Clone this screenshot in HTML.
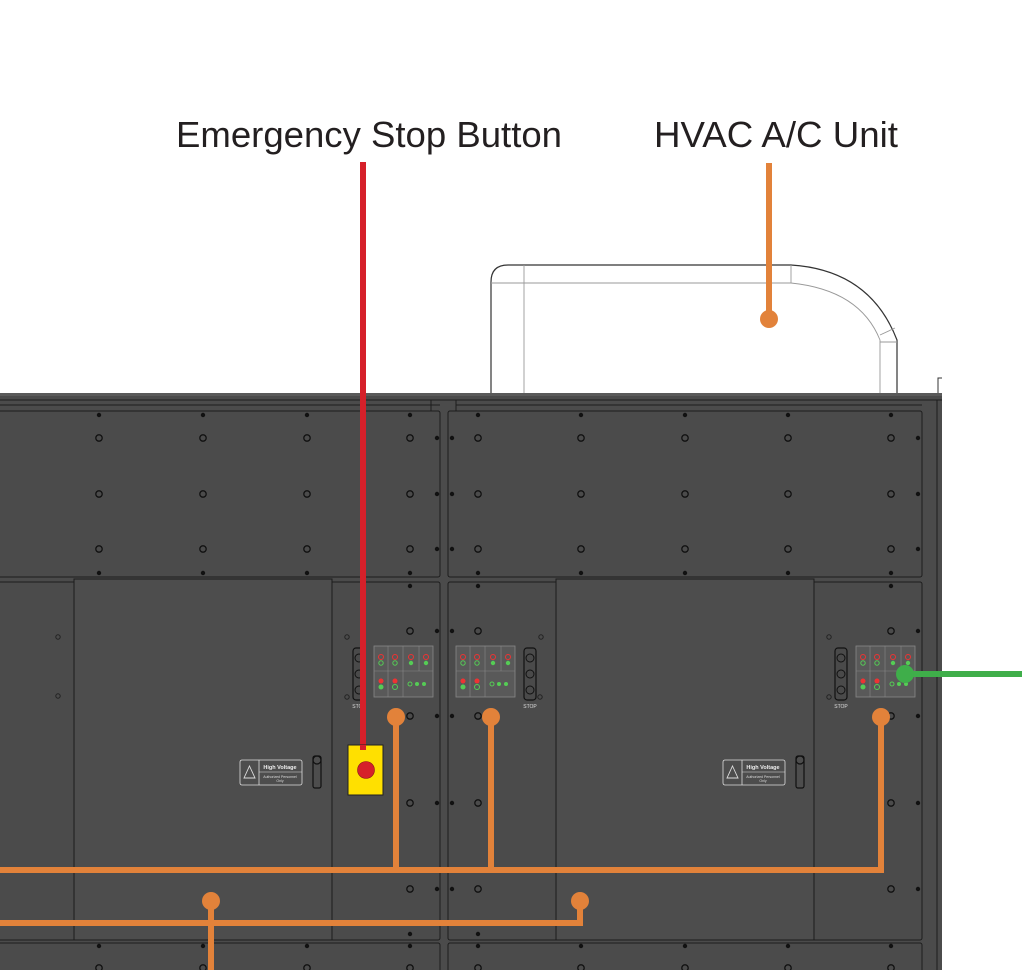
<!DOCTYPE html>
<html><head><meta charset="utf-8"><style>html,body{margin:0;padding:0;background:#fff;width:1022px;height:970px;overflow:hidden}</style></head>
<body>
<svg width="1022" height="970" viewBox="0 0 1022 970" xmlns="http://www.w3.org/2000/svg">
<defs>
<g id="ring"><circle r="3.2" fill="none" stroke="#111" stroke-width="1.3"/></g>
<g id="dot"><circle r="2.2" fill="#111"/></g>
<g id="cp">
 <rect x="0" y="0" width="59" height="51" fill="#595959" stroke="#888" stroke-width="0.8"/>
 <line x1="0" y1="25" x2="59" y2="25" stroke="#888" stroke-width="0.6"/>
 <line x1="14" y1="0" x2="14" y2="51" stroke="#888" stroke-width="0.6"/>
 <line x1="29" y1="0" x2="29" y2="51" stroke="#888" stroke-width="0.6"/>
 <line x1="45" y1="0" x2="45" y2="25" stroke="#888" stroke-width="0.6"/>
 <circle cx="7" cy="11" r="2.5" fill="none" stroke="#e33" stroke-width="1"/>
 <circle cx="21" cy="11" r="2.5" fill="none" stroke="#e33" stroke-width="1"/>
 <circle cx="37" cy="11" r="2.5" fill="none" stroke="#e33" stroke-width="1"/>
 <circle cx="52" cy="11" r="2.5" fill="none" stroke="#e33" stroke-width="1"/>
 <circle cx="7" cy="17" r="2.2" fill="none" stroke="#5c5" stroke-width="1"/>
 <circle cx="21" cy="17" r="2.2" fill="none" stroke="#5c5" stroke-width="1"/>
 <circle cx="37" cy="17" r="2.2" fill="#5c5"/>
 <circle cx="52" cy="17" r="2.2" fill="#5c5"/>
 <circle cx="7" cy="35" r="2.5" fill="#e33"/>
 <circle cx="21" cy="35" r="2.5" fill="#e33"/>
 <circle cx="7" cy="41" r="2.5" fill="#5c5"/>
 <circle cx="21" cy="41" r="2.5" fill="none" stroke="#5c5"/>
 <circle cx="36" cy="38" r="2" fill="none" stroke="#5c5"/>
 <circle cx="43" cy="38" r="2" fill="#5c5"/>
 <circle cx="50" cy="38" r="2" fill="#5c5"/>
</g>
<g id="stop">
 <rect x="0" y="0" width="12" height="52" rx="3" fill="#4a4a4a" stroke="#111" stroke-width="1.2"/>
 <circle cx="6" cy="10" r="4" fill="none" stroke="#111"/>
 <circle cx="6" cy="26" r="4" fill="none" stroke="#111"/>
 <circle cx="6" cy="42" r="4" fill="none" stroke="#111"/>
 <text x="6" y="60" font-family="Liberation Sans" font-size="5" fill="#ddd" text-anchor="middle">STOP</text>
</g>
<g id="hv">
 <rect x="0" y="0" width="62" height="25" rx="2" fill="none" stroke="#ddd" stroke-width="0.8"/>
 <line x1="19" y1="0" x2="19" y2="25" stroke="#ddd" stroke-width="0.8"/>
 <line x1="19" y1="12" x2="62" y2="12" stroke="#ddd" stroke-width="0.6"/>
 <path d="M9.5 6 L15 18 L4 18 Z" fill="none" stroke="#ddd" stroke-width="0.9"/>
 <text x="40" y="9" font-family="Liberation Sans" font-size="5.5" font-weight="bold" fill="#eee" text-anchor="middle">High Voltage</text>
 <text x="40" y="18" font-family="Liberation Sans" font-size="3.5" fill="#ddd" text-anchor="middle">Authorized Personnel</text>
 <text x="40" y="22" font-family="Liberation Sans" font-size="3.5" fill="#ddd" text-anchor="middle">Only</text>
</g>
</defs>

<!-- labels -->
<text x="176" y="147" font-family="Liberation Sans" font-size="36" fill="#231f20" textLength="386" lengthAdjust="spacingAndGlyphs">Emergency Stop Button</text>
<text x="654" y="147" font-family="Liberation Sans" font-size="36" fill="#231f20" textLength="244" lengthAdjust="spacingAndGlyphs">HVAC A/C Unit</text>

<!-- HVAC outline -->
<g fill="none" stroke="#333" stroke-width="1.2">
 <path d="M491 400 L491 282 Q491 265 508 265 L791 265 Q870 270 897 340 L897 400"/>
</g>
<g fill="none" stroke="#999" stroke-width="0.9">
 <line x1="524" y1="265" x2="524" y2="400"/>
 <line x1="491" y1="283" x2="791" y2="283"/>
 <line x1="791" y1="265" x2="791" y2="283"/>
 <path d="M791 283 Q860 290 880 340 L880 400"/>
 <line x1="880" y1="342" x2="897" y2="342"/>
 <line x1="880" y1="335" x2="895" y2="328"/>
</g>
<path d="M938 400 L938 378 L942 378" fill="none" stroke="#333" stroke-width="1"/>

<!-- cabinet body -->
<rect x="0" y="393" width="942" height="577" fill="#4b4b4b"/>
<rect x="0" y="393" width="942" height="3" fill="#5a5a5a"/>
<g fill="none" stroke="#1c1c1c" stroke-width="1">
 <line x1="0" y1="400" x2="942" y2="400"/>
 <line x1="0" y1="405" x2="440" y2="405"/>
 <line x1="456" y1="405" x2="922" y2="405"/>
 <line x1="937" y1="400" x2="937" y2="970"/>
 <rect x="-2" y="411" width="442" height="166" rx="2"/>
 <rect x="448" y="411" width="474" height="166" rx="2"/>
 <rect x="-2" y="582" width="442" height="358" rx="2"/>
 <rect x="448" y="582" width="474" height="358" rx="2"/>
 <rect x="74" y="579" width="258" height="361" fill="#4d4d4d"/>
 <rect x="556" y="579" width="258" height="361" fill="#4d4d4d"/>
 <rect x="-2" y="943" width="442" height="40" rx="2"/>
 <rect x="448" y="943" width="474" height="40" rx="2"/>
 <line x1="431" y1="400" x2="431" y2="411"/>
 <line x1="456" y1="400" x2="456" y2="411"/>
</g>

<!-- bolts upper -->
<g>
 <use href="#dot" x="99" y="415"/><use href="#dot" x="203" y="415"/><use href="#dot" x="307" y="415"/><use href="#dot" x="410" y="415"/>
 <use href="#ring" x="99" y="438"/><use href="#ring" x="203" y="438"/><use href="#ring" x="307" y="438"/><use href="#ring" x="410" y="438"/>
 <use href="#ring" x="99" y="494"/><use href="#ring" x="203" y="494"/><use href="#ring" x="307" y="494"/><use href="#ring" x="410" y="494"/>
 <use href="#ring" x="99" y="549"/><use href="#ring" x="203" y="549"/><use href="#ring" x="307" y="549"/><use href="#ring" x="410" y="549"/>
 <use href="#dot" x="99" y="573"/><use href="#dot" x="203" y="573"/><use href="#dot" x="307" y="573"/><use href="#dot" x="410" y="573"/>
 <use href="#dot" x="437" y="438"/><use href="#dot" x="452" y="438"/><use href="#dot" x="437" y="494"/><use href="#dot" x="452" y="494"/><use href="#dot" x="437" y="549"/><use href="#dot" x="452" y="549"/>
 <use href="#dot" x="478" y="415"/><use href="#dot" x="581" y="415"/><use href="#dot" x="685" y="415"/><use href="#dot" x="788" y="415"/><use href="#dot" x="891" y="415"/>
 <use href="#ring" x="478" y="438"/><use href="#ring" x="581" y="438"/><use href="#ring" x="685" y="438"/><use href="#ring" x="788" y="438"/><use href="#ring" x="891" y="438"/>
 <use href="#ring" x="478" y="494"/><use href="#ring" x="581" y="494"/><use href="#ring" x="685" y="494"/><use href="#ring" x="788" y="494"/><use href="#ring" x="891" y="494"/>
 <use href="#ring" x="478" y="549"/><use href="#ring" x="581" y="549"/><use href="#ring" x="685" y="549"/><use href="#ring" x="788" y="549"/><use href="#ring" x="891" y="549"/>
 <use href="#dot" x="478" y="573"/><use href="#dot" x="581" y="573"/><use href="#dot" x="685" y="573"/><use href="#dot" x="788" y="573"/><use href="#dot" x="891" y="573"/>
 <use href="#dot" x="918" y="438"/><use href="#dot" x="918" y="494"/><use href="#dot" x="918" y="549"/>
 <!-- lower side bolts -->
 <use href="#dot" x="410" y="586"/><use href="#ring" x="410" y="631"/><use href="#ring" x="410" y="716"/><use href="#ring" x="410" y="803"/><use href="#ring" x="410" y="889"/><use href="#dot" x="410" y="934"/>
 <use href="#dot" x="437" y="631"/><use href="#dot" x="452" y="631"/><use href="#dot" x="437" y="716"/><use href="#dot" x="452" y="716"/><use href="#dot" x="437" y="803"/><use href="#dot" x="452" y="803"/><use href="#dot" x="437" y="889"/><use href="#dot" x="452" y="889"/>
 <use href="#dot" x="478" y="586"/><use href="#ring" x="478" y="631"/><use href="#ring" x="478" y="716"/><use href="#ring" x="478" y="803"/><use href="#ring" x="478" y="889"/><use href="#dot" x="478" y="934"/>
 <use href="#dot" x="891" y="586"/><use href="#ring" x="891" y="631"/><use href="#ring" x="891" y="716"/><use href="#ring" x="891" y="803"/><use href="#ring" x="891" y="889"/>
 <use href="#dot" x="918" y="631"/><use href="#dot" x="918" y="716"/><use href="#dot" x="918" y="803"/><use href="#dot" x="918" y="889"/>
 <circle cx="58" cy="637" r="2.2" fill="none" stroke="#222"/><circle cx="58" cy="696" r="2.2" fill="none" stroke="#222"/>
 <circle cx="347" cy="637" r="2.2" fill="none" stroke="#222"/><circle cx="347" cy="697" r="2.2" fill="none" stroke="#222"/>
 <circle cx="541" cy="637" r="2.2" fill="none" stroke="#222"/><circle cx="540" cy="697" r="2.2" fill="none" stroke="#222"/>
 <circle cx="829" cy="637" r="2.2" fill="none" stroke="#222"/><circle cx="829" cy="697" r="2.2" fill="none" stroke="#222"/>
 <use href="#dot" x="99" y="946"/><use href="#dot" x="203" y="946"/><use href="#dot" x="307" y="946"/><use href="#dot" x="410" y="946"/>
 <use href="#dot" x="478" y="946"/><use href="#dot" x="581" y="946"/><use href="#dot" x="685" y="946"/><use href="#dot" x="788" y="946"/><use href="#dot" x="891" y="946"/>
 <use href="#ring" x="99" y="968"/><use href="#ring" x="203" y="968"/><use href="#ring" x="307" y="968"/><use href="#ring" x="410" y="968"/>
 <use href="#ring" x="478" y="968"/><use href="#ring" x="581" y="968"/><use href="#ring" x="685" y="968"/><use href="#ring" x="788" y="968"/><use href="#ring" x="891" y="968"/>
</g>

<!-- control panels -->
<use href="#cp" x="374" y="646"/>
<use href="#cp" x="456" y="646"/>
<use href="#cp" x="856" y="646"/>
<use href="#stop" x="353" y="648"/>
<use href="#stop" x="524" y="648"/>
<use href="#stop" x="835" y="648"/>
<use href="#hv" x="240" y="760"/>
<use href="#hv" x="723" y="760"/>
<g fill="none" stroke="#111" stroke-width="1.2">
 <rect x="313" y="756" width="8" height="32" rx="2"/><circle cx="317" cy="760" r="4"/>
 <rect x="796" y="756" width="8" height="32" rx="2"/><circle cx="800" cy="760" r="4"/>
</g>

<!-- connectors -->
<g stroke="#e2823a" stroke-width="6" fill="none">
 <line x1="769" y1="163" x2="769" y2="319"/>
 <line x1="0" y1="870" x2="884" y2="870"/>
 <line x1="396" y1="717" x2="396" y2="870"/>
 <line x1="491" y1="717" x2="491" y2="870"/>
 <line x1="881" y1="717" x2="881" y2="870"/>
 <line x1="0" y1="923" x2="583" y2="923"/>
 <line x1="580" y1="901" x2="580" y2="926"/>
 <line x1="211" y1="901" x2="211" y2="970"/>
</g>
<g fill="#e2823a">
 <circle cx="769" cy="319" r="9"/>
 <circle cx="396" cy="717" r="9"/>
 <circle cx="491" cy="717" r="9"/>
 <circle cx="881" cy="717" r="9"/>
 <circle cx="580" cy="901" r="9"/>
 <circle cx="211" cy="901" r="9"/>
</g>
<line x1="905" y1="674" x2="1022" y2="674" stroke="#3fae4a" stroke-width="6"/>
<circle cx="905" cy="674" r="9" fill="#3fae4a"/>

<!-- e-stop -->
<line x1="363" y1="162" x2="363" y2="750" stroke="#d6202a" stroke-width="6"/>
<rect x="348" y="745" width="35" height="50" fill="#ffe000" stroke="#222" stroke-width="1"/>
<rect x="360" y="745" width="6" height="5" fill="#d6202a"/>
<circle cx="366" cy="770" r="8.5" fill="#d6202a" stroke="#8a1a1a" stroke-width="0.6"/>
</svg>
</body></html>
